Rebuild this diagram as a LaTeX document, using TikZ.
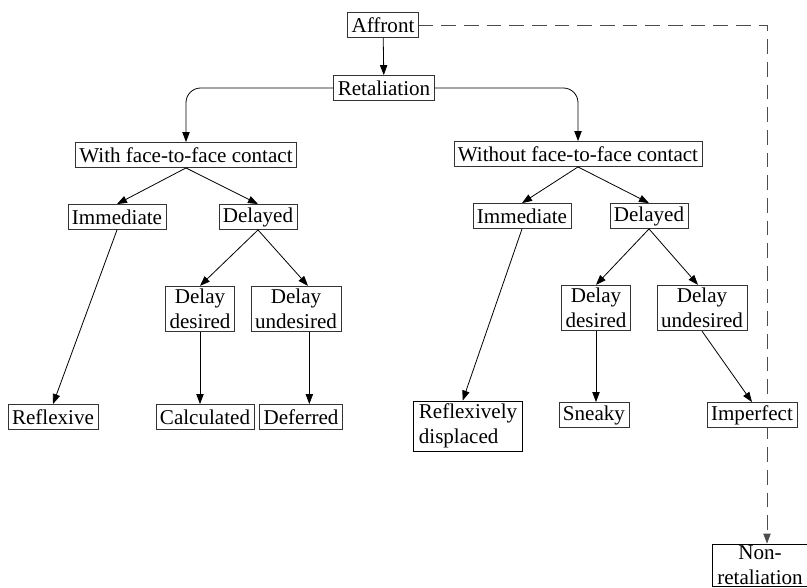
\documentclass[tikz,border=0pt]{standalone}
\usepackage{fontspec}
\setmainfont{Liberation Serif}
\usetikzlibrary{arrows.meta,backgrounds}

\begin{document}
\begin{tikzpicture}[
    x=0.75pt, y=-0.75pt,
    box/.style={draw=black!80, line width=0.6pt, fill=white, align=center, inner xsep=3pt, inner ysep=2pt, minimum height=18.8pt, font=\fontsize{15.8}{19}\selectfont},
    plainbox/.style={box, draw=black, align=left, inner xsep=4pt},
    link/.style={->, line width=0.6pt},
    >={Triangle[length=7.5pt,width=5.5pt]}
  ]
    \useasboundingbox (0,0) rectangle (807,588);

    \node[box] (affront) at (383,25) {Affront};
    \node[box] (ret) at (384,88) {Retaliation};

    % with face-to-face contact
    \node[box] (wfc) at (186,155) {With face-to-face contact};
    \node[box] (iml) at (117,217) {Immediate};
    \node[box] (dll) at (258,217) {Delayed};
    \node[box] (ddl) at (200,309) {Delay\\desired};
    \node[box] (dul) at (296,309) {Delay\\undesired};
    \node[box] (refl) at (53,417) {Reflexive};
    \node[box] (calcd) at (205,417) {Calculated};
    \node[box] (defl) at (301,417) {Deferred};

    % without face-to-face contact
    \node[box] (wofc) at (578,154) {Without face-to-face contact};
    \node[box] (imr) at (522,216) {Immediate};
    \node[box] (dlr) at (649,216) {Delayed};
    \node[box] (ddr) at (596,308) {Delay\\desired};
    \node[box] (dur) at (702,308) {Delay\\undesired};
    \node[plainbox] (refd) at (468,426) {Reflexively\\displaced};
    \node[box] (sneaky) at (594,415) {Sneaky};
    \node[box] (imperf) at (752,415) {Imperfect};
    \node[plainbox, align=center, inner ysep=1pt] (nonret) at (760,565) {Non-\\retaliation};

    \draw[link] (affront) -- (ret);
    \draw[link, rounded corners=11pt] (ret.west) -| (wfc.north);
    \draw[link, rounded corners=11pt] (ret.east) -| (wofc.north);

    \draw[link] (wfc.south) -- (iml.north);
    \draw[link] (wfc.south) -- (dll.north);
    \draw[link] (iml.south) -- (refl.north);
    \draw[link] (dll.south) -- (ddl.north);
    \draw[link] (dll.south) -- ([xshift=9pt]dul.north);
    \draw[link] (ddl.south) -- (ddl.south |- calcd.north);
    \draw[link] ([xshift=10pt]dul.south) -- ([xshift=10pt]dul.south |- defl.north);

    \draw[link] (wofc.south) -- (imr.north);
    \draw[link] (wofc.south) -- (dlr.north);
    \draw[link] (imr.south) -- ([xshift=-4pt]refd.north);
    \draw[link] (dlr.south) -- (ddr.north);
    \draw[link] (dlr.south) -- ([xshift=-3pt]dur.north);
    \draw[link] (ddr.south) -- (ddr.south |- sneaky.north);
    \draw[link] (dur.south) -- (imperf.north);

    % non-retaliation path
    \coordinate (bend) at (767,25);
    \begin{scope}[on background layer]
      \draw[link, draw=black!70, dash pattern=on 11pt off 6pt] (affront.east) -- (bend) -- (bend |- nonret.north);
    \end{scope}
  \end{tikzpicture}
\end{document}
